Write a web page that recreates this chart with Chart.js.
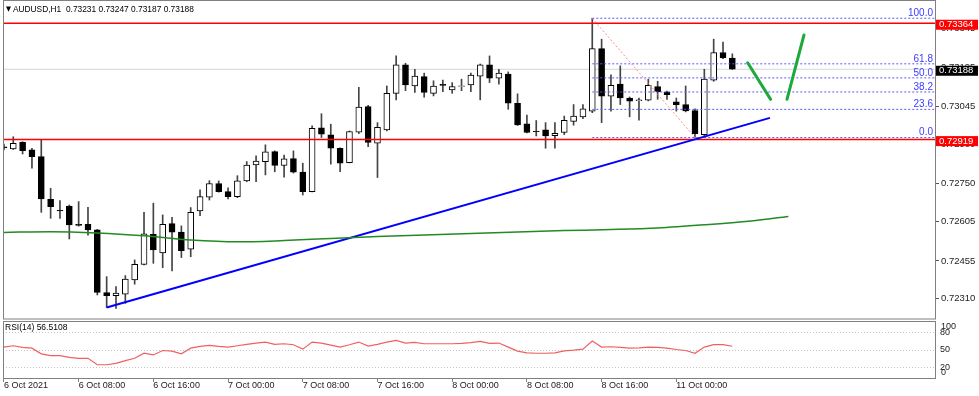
<!DOCTYPE html>
<html>
<head>
<meta charset="utf-8">
<script src="https://cdn.jsdelivr.net/npm/chart.js@4.4.1/dist/chart.umd.min.js"></script>
<style>
  html, body { margin: 0; padding: 0; background: #fff; }
  #wrap { position: relative; width: 979px; height: 396px; overflow: hidden; font-family: "Liberation Sans", Arial, sans-serif; }
  #priceChart { position: absolute; left: 0; top: 0; }
  #rsiChart { position: absolute; left: 0; top: 320px; }
  #head { position: absolute; left: 6px; top: 4px; font-size: 9px; color: #000; white-space: pre; transform: scaleX(0.93); transform-origin: 0 0; }
  #head .tri { font-family: "DejaVu Sans"; font-size: 7px; vertical-align: 1px; }
  #rsiHead { position: absolute; left: 5px; top: 322px; font-size: 8.5px; color: #000; }
</style>
</head>
<body>
<div id="wrap">
  <canvas id="priceChart" width="979" height="320"></canvas>
  <canvas id="rsiChart" width="979" height="76"></canvas>
  <div id="head"><span class="tri">&#9660;</span> AUDUSD,H1  0.73231 0.73247 0.73187 0.73188</div>
  <div id="rsiHead">RSI(14) 56.5108</div>
</div>
<script>
// hourly AUDUSD bars, 6 Oct 00:00 .. 11 Oct 06:00
const opens = [0.72891,0.72883,0.72909,0.72880,0.72854,0.72691,0.72649,0.72665,0.72595,0.72595,
  0.72574,0.72334,0.72322,0.72328,0.72382,0.72442,0.72557,0.72486,0.72598,0.72565,
  0.72500,0.72646,0.72699,0.72751,0.72720,0.72701,0.72761,0.72822,0.72835,0.72873,
  0.72820,0.72846,0.72795,0.72720,0.72964,0.72937,0.72886,0.72831,0.72947,0.73045,
  0.72905,0.72956,0.73096,0.73205,0.73124,0.73160,0.73096,0.73130,0.73109,0.73122,
  0.73128,0.73162,0.73205,0.73154,0.73170,0.73058,0.72979,0.72951,0.72956,0.72934,
  0.72946,0.72989,0.73006,0.73028,0.73267,0.73085,0.73131,0.73078,0.73068,0.73070,
  0.73122,0.73101,0.73063,0.73053,0.73030,0.72938,0.73146,0.73252,0.73231];
const highs = [0.72902,0.72930,0.72911,0.72886,0.72918,0.72733,0.72686,0.72669,0.72682,0.72660,
  0.72576,0.72395,0.72357,0.72399,0.72459,0.72641,0.72676,0.72631,0.72622,0.72589,
  0.72659,0.72727,0.72762,0.72761,0.72735,0.72781,0.72835,0.72857,0.72899,0.72876,
  0.72860,0.72876,0.72829,0.72972,0.73018,0.72978,0.72888,0.72952,0.73119,0.73050,
  0.72984,0.73124,0.73239,0.73211,0.73188,0.73173,0.73144,0.73147,0.73137,0.73150,
  0.73173,0.73208,0.73239,0.73188,0.73178,0.73094,0.73013,0.72992,0.72984,0.72984,
  0.73009,0.73053,0.73053,0.73383,0.73303,0.73167,0.73201,0.73082,0.73078,0.73150,
  0.73142,0.73105,0.73078,0.73124,0.73037,0.73188,0.73303,0.73292,0.73247];
const lows = [0.72880,0.72881,0.72864,0.72810,0.72641,0.72618,0.72618,0.72539,0.72588,0.72554,
  0.72325,0.72277,0.72273,0.72293,0.72366,0.72440,0.72446,0.72429,0.72417,0.72468,
  0.72471,0.72628,0.72688,0.72718,0.72692,0.72697,0.72758,0.72758,0.72784,0.72796,
  0.72775,0.72791,0.72707,0.72719,0.72927,0.72825,0.72796,0.72830,0.72942,0.72892,
  0.72774,0.72952,0.73071,0.73106,0.73099,0.73081,0.73086,0.73102,0.73096,0.73106,
  0.73102,0.73071,0.73137,0.73131,0.73035,0.72973,0.72945,0.72933,0.72886,0.72886,
  0.72938,0.72974,0.72999,0.73022,0.72984,0.73028,0.73053,0.73006,0.72993,0.73067,
  0.73073,0.73073,0.73028,0.73025,0.72927,0.72930,0.73142,0.73228,0.73187];
const closes = [0.72887,0.72905,0.72877,0.72854,0.72692,0.72663,0.72646,0.72593,0.72591,0.72574,
  0.72335,0.72322,0.72332,0.72386,0.72442,0.72559,0.72497,0.72595,0.72565,0.72494,
  0.72641,0.72701,0.72751,0.72720,0.72701,0.72761,0.72822,0.72837,0.72872,0.72820,
  0.72845,0.72794,0.72720,0.72962,0.72940,0.72886,0.72829,0.72950,0.73043,0.72908,
  0.72966,0.73096,0.73205,0.73128,0.73162,0.73099,0.73124,0.73126,0.73122,0.73125,
  0.73166,0.73205,0.73154,0.73173,0.73058,0.72975,0.72946,0.72949,0.72933,0.72943,
  0.72993,0.73009,0.73037,0.73267,0.73085,0.73127,0.73078,0.73066,0.73071,0.73127,
  0.73101,0.73091,0.73053,0.73029,0.72942,0.73150,0.73252,0.73231,0.73188];

const rsiValues = [55.0,57.3,54.4,53.2,43.3,40.4,40.4,37.4,35.7,35.7,
  24.6,24.6,26.9,31.6,35.7,44.4,41.5,49.1,48.0,43.3,
  53.2,56.1,57.9,56.1,55.0,57.3,59.6,62.0,63.7,59.6,
  60.8,59.1,51.5,63.7,62.0,58.5,55.0,59.1,63.7,56.7,
  59.6,63.7,66.7,62.0,63.2,60.8,60.8,60.8,60.8,61.4,
  62.6,64.9,61.4,62.0,55.0,48.0,45.0,44.4,44.4,45.0,
  48.5,49.7,51.5,65.5,55.0,55.6,54.4,53.2,53.8,55.0,
  54.4,53.2,50.9,49.1,44.4,55.0,59.1,59.1,56.5];

// moving average (green), read at a few bars
const maIdx = [0, 5, 10, 15, 20, 25, 30, 35, 40, 45, 50, 55, 60, 65, 70, 75, 80, 84];
const maVals = [0.72564,0.72567,0.72562,0.72551,0.72535,0.72528,0.72533,0.72541,0.72548,
  0.72554,0.72560,0.72566,0.72571,0.72575,0.72581,0.72593,0.72608,0.72625];

// trend line and drawn projection
const trendIdx = [11, 82.03];
const trendVals = [0.72277, 0.73002];
const projIdxA = [79.64, 82.1];
const projValsA = [0.73213, 0.73073];
const projIdxB = [83.85, 85.67];
const projValsB = [0.73073, 0.73319];

// horizontal levels
const resistance = 0.73364;
const support = 0.72919;
const lastPrice = 0.73188;

// fibonacci from bar 63 high to bar 74 low
const fibHighIdx = 63, fibLowIdx = 74;
const fibHigh = 0.73383, fibLow = 0.72927;
const fibRatios = [0, 23.6, 38.2, 50, 61.8, 100];

const priceTicks = [0.72310, 0.72455, 0.72605, 0.72750, 0.72900, 0.73045, 0.73195, 0.73345];
const xTickIdx = [0, 8, 16, 24, 32, 40, 48, 56, 64, 72];
const xTickLabels = ['6 Oct 2021', '6 Oct 08:00', '6 Oct 16:00', '7 Oct 00:00', '7 Oct 08:00',
  '7 Oct 16:00', '8 Oct 00:00', '8 Oct 08:00', '8 Oct 16:00', '11 Oct 00:00'];

const X_MIN = -0.1, X_MAX = 99.7;
const Y_MIN = 0.72233, Y_MAX = 0.73449;
const FONT = 'Liberation Sans';

const pts = (xs, ys) => xs.map((x, k) => ({ x: x, y: ys[k] }));
const hline = (v) => [{ x: X_MIN, y: v }, { x: X_MAX, y: v }];
const lineDs = (data, color, width, extra) => Object.assign({
  type: 'line', data: data, borderColor: color, borderWidth: width,
  pointRadius: 0, fill: false, order: 1
}, extra || {});
const noPad = s => { s.paddingTop = 0; s.paddingBottom = 0; s.paddingLeft = 0; s.paddingRight = 0; };

const fibLevels = fibRatios.map(r => fibLow + (fibHigh - fibLow) * r / 100);

const datasets = [
  {
    type: 'bar', data: highs.map((h, i) => ({ x: i, y: [lows[i], h] })),
    backgroundColor: '#444444', barThickness: 1, grouped: false, order: 6
  },
  {
    type: 'bar', data: opens.map((o, i) => ({ x: i, y: [o, closes[i]] })),
    backgroundColor: opens.map((o, i) => closes[i] >= o ? '#ffffff' : '#000000'),
    borderColor: '#000000', borderWidth: 1, borderSkipped: false,
    barThickness: 6, grouped: false, order: 5
  },
  lineDs(hline(lastPrice), '#d4d4d4', 1, { order: 7 }),
  lineDs(pts(maIdx, maVals), '#228b22', 1.5, { tension: 0.3, cubicInterpolationMode: 'monotone' }),
  lineDs(pts(trendIdx, trendVals), '#0000ff', 2),
  lineDs(hline(resistance), '#ff0000', 1.5),
  lineDs(hline(support), '#ff0000', 1.5),
  lineDs([{ x: fibHighIdx, y: fibHigh }, { x: fibLowIdx, y: fibLow }], '#ff8c8c', 1, { borderDash: [2, 2] }),
  lineDs(pts(projIdxA, projValsA), '#1fa83c', 3, { borderCapStyle: 'round' }),
  lineDs(pts(projIdxB, projValsB), '#1fa83c', 3, { borderCapStyle: 'round' })
];
fibLevels.forEach(v => {
  datasets.push(lineDs([{ x: fibHighIdx, y: v }, { x: X_MAX, y: v }], '#5a5aff', 1, { borderDash: [2, 2] }));
});

// frame, price tags and fib labels
const priceDecor = {
  id: 'priceDecor',
  afterDraw(chart) {
    const { ctx, chartArea: a, scales } = chart;
    const y = scales.y;
    ctx.save();
    ctx.strokeStyle = '#808080';
    ctx.lineWidth = 1;
    ctx.strokeRect(Math.floor(a.left) + 0.5, 0.5, Math.round(a.right - a.left), Math.round(a.bottom) - 0.5);

    ctx.font = '10px "' + FONT + '"';
    ctx.textAlign = 'right';
    ctx.textBaseline = 'bottom';
    ctx.fillStyle = '#3c3cff';
    fibLevels.forEach((v, k) => {
      ctx.fillText(fibRatios[k].toFixed(1), a.right - 2, y.getPixelForValue(v));
    });

    ctx.font = '9.5px "' + FONT + '"';
    ctx.textAlign = 'left';
    ctx.textBaseline = 'middle';
    [[resistance, '#ff0000'], [support, '#ff0000'], [lastPrice, '#000000']].forEach(([v, bg]) => {
      const py = y.getPixelForValue(v);
      ctx.fillStyle = bg;
      ctx.fillRect(a.right + 1, py - 3.5, 42, 10);
      ctx.fillStyle = '#ffffff';
      ctx.fillText(v.toFixed(5), a.right + 4, py + 1.5);
    });
    ctx.restore();
  }
};

new Chart(document.getElementById('priceChart'), {
  type: 'bar',
  data: { datasets: datasets },
  options: {
    responsive: false, animation: false, events: [],
    layout: { padding: { left: 3, top: 1, right: 0, bottom: 1 } },
    plugins: { legend: { display: false }, tooltip: { enabled: false } },
    scales: {
      x: { type: 'linear', min: X_MIN, max: X_MAX, offset: false, display: false, grid: { offset: false } },
      y: {
        position: 'right', min: Y_MIN, max: Y_MAX,
        afterBuildTicks: s => { s.ticks = priceTicks.map(v => ({ value: v })); },
        afterFit: s => { s.width = 44; noPad(s); },
        grid: { drawOnChartArea: false, tickLength: 4, color: '#555555' },
        border: { display: false },
        ticks: { padding: 2, color: '#222222', font: { family: FONT, size: 9.5 }, callback: v => v.toFixed(5) }
      }
    }
  },
  plugins: [priceDecor]
});

const rsiDecor = {
  id: 'rsiDecor',
  afterDraw(chart) {
    const { ctx, chartArea: a, scales } = chart;
    ctx.save();
    ctx.strokeStyle = '#808080';
    ctx.lineWidth = 1;
    ctx.strokeRect(Math.floor(a.left) + 0.5, Math.floor(a.top) + 0.5, Math.round(a.right - a.left), Math.round(a.bottom - a.top) - 1);
    ctx.fillStyle = '#222222';
    ctx.font = '9px "' + FONT + '"';
    ctx.textAlign = 'left';
    ctx.textBaseline = 'top';
    ctx.fillText('100', a.right + 6, scales.y.getPixelForValue(100) + 1);
    ctx.textBaseline = 'bottom';
    ctx.fillText('0', a.right + 6, scales.y.getPixelForValue(0) - 2);
    ctx.restore();
  }
};

new Chart(document.getElementById('rsiChart'), {
  type: 'line',
  data: {
    datasets: [{
      data: rsiValues.map((v, i) => ({ x: i, y: v })),
      borderColor: '#f06060', borderWidth: 1.2, pointRadius: 0, fill: false
    }]
  },
  options: {
    responsive: false, animation: false, events: [],
    layout: { padding: { left: 3, top: 1, right: 0, bottom: 0 } },
    plugins: { legend: { display: false }, tooltip: { enabled: false } },
    scales: {
      x: {
        type: 'linear', min: X_MIN, max: X_MAX, offset: false,
        afterBuildTicks: s => { s.ticks = xTickIdx.map(v => ({ value: v })); },
        afterFit: s => { s.height = 17; noPad(s); },
        grid: { drawOnChartArea: false, tickLength: 3, color: '#808080' },
        border: { display: false },
        ticks: {
          align: 'start', padding: -2, maxRotation: 0, autoSkip: false,
          color: '#222222', font: { family: FONT, size: 9 },
          callback: (v, i) => xTickLabels[i]
        }
      },
      y: {
        position: 'right', min: 0, max: 100,
        afterBuildTicks: s => { s.ticks = [20, 50, 80].map(v => ({ value: v })); },
        afterFit: s => { s.width = 44; noPad(s); },
        grid: { color: '#c4c4c4', tickLength: 3, tickColor: 'rgba(0,0,0,0)' },
        border: { display: false, dash: [1, 2] },
        ticks: { padding: 2, color: '#222222', font: { family: FONT, size: 9 } }
      }
    }
  },
  plugins: [rsiDecor]
});
</script>
</body>
</html>
